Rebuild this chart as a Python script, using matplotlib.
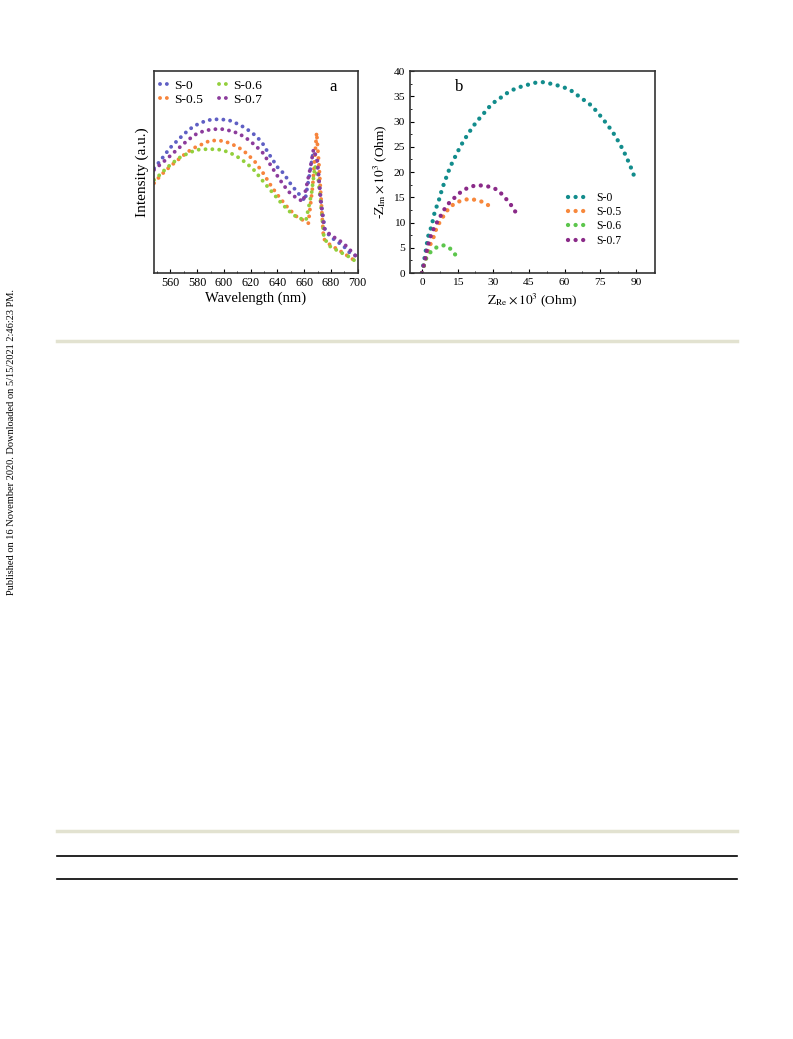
import matplotlib
matplotlib.use("Agg")
import matplotlib.pyplot as plt
from matplotlib.lines import Line2D

plt.rcParams['font.family'] = ['Liberation Serif', 'DejaVu Serif']
plt.rcParams['mathtext.fontset'] = 'stix'

# ---------------- Panel a data (PL spectra) ----------------
wl_s0 = [547.8, 552.0, 555.8, 559.5, 564.5, 569.5, 574.5, 580.7, 587.0, 592.0, 598.2, 604.4,
         609.4, 615.6, 621.9, 628.1, 633.3, 640.6, 644.6, 650.0, 654.6, 660.6, 664.3, 666.8,
         668.8, 670.5, 673.0, 675.6, 679.5, 684.3, 689.3, 694.5, 700.0]
int_s0 = [51.9, 55.2, 58.5, 61.8, 65.1, 68.4, 71.3, 73.8, 75.5, 76.1, 76.1, 75.5,
          74.1, 72.0, 69.0, 65.1, 59.3, 51.9, 49.4, 44.0, 40.2, 35.8, 50.0, 60.0,
          57.0, 49.4, 32.9, 21.4, 18.0, 15.7, 13.4, 9.7, 8.1]

wl_s05 = [547.8, 552.0, 557.0, 562.0, 567.0, 573.2, 579.5, 585.7, 589.5, 594.4, 599.4, 604.4,
          610.7, 616.9, 623.1, 629.4, 635.6, 641.9, 648.1, 654.3, 663.1, 666.3, 669.3, 671.3,
          673.1, 674.5, 679.3, 685.5, 691.8, 700.0]
int_s05 = [44.5, 47.8, 51.1, 54.0, 56.8, 60.1, 62.6, 64.3, 65.6, 65.6, 65.4, 64.3,
           62.3, 59.3, 55.2, 49.4, 42.8, 37.1, 32.1, 28.0, 24.7, 42.8, 69.5, 51.1,
           31.3, 17.0, 14.0, 11.5, 8.8, 5.2]

wl_s06 = [547.8, 552.0, 557.0, 562.0, 567.0, 573.2, 579.5, 585.7, 591.9, 598.2, 604.4, 610.7,
          616.9, 623.1, 629.4, 635.6, 641.9, 648.1, 654.3, 661.3, 665.5, 668.1, 670.6, 673.1,
          674.8, 679.3, 686.8, 694.3, 700.0]
int_s06 = [46.1, 48.6, 51.9, 54.7, 57.2, 59.3, 61.0, 61.3, 61.3, 61.0, 59.6, 57.3,
           54.4, 50.6, 45.3, 40.4, 35.4, 31.0, 27.7, 26.0, 39.5, 53.0, 46.1, 29.6,
           17.3, 13.2, 10.4, 7.8, 5.0]

wl_s07 = [547.8, 552.0, 557.0, 562.0, 567.0, 573.2, 579.5, 585.7, 591.9, 598.2, 604.4, 610.7,
          616.9, 623.1, 629.4, 635.6, 641.9, 648.1, 654.3, 659.3, 664.3, 667.0, 669.8, 672.3,
          674.8, 679.3, 689.3, 700.0]
int_s07 = [51.1, 53.5, 56.3, 59.3, 62.3, 65.9, 68.9, 70.5, 71.2, 71.3, 70.5, 69.2,
           66.7, 63.4, 59.3, 52.7, 46.1, 40.4, 37.1, 35.4, 51.1, 61.3, 56.0, 36.2,
           22.2, 19.0, 14.8, 7.5]

# ---------------- Panel b data (Nyquist) ----------------
zre_s0 = [0.0, 0.6, 1.2, 1.7, 2.2, 2.8, 3.8, 4.6, 5.3, 6.3, 7.4, 8.4, 9.5, 10.7, 11.8, 13.2,
          14.6, 16.0, 17.7, 19.5, 21.3, 23.4, 25.5, 27.5, 30.0, 32.5, 35.3, 38.3, 41.6, 44.6,
          47.8, 50.9, 54.1, 57.5, 60.7, 63.2, 66.0, 68.6, 71.2, 73.5, 75.6, 77.6, 79.5, 81.5,
          83.0, 84.7, 86.1, 87.5, 88.6, 90.0]
zim_s0 = [0.0, 1.6, 3.2, 4.6, 6.1, 7.6, 8.9, 10.4, 11.9, 13.3, 14.8, 16.5, 18.0, 19.5, 20.9,
          22.3, 23.6, 24.9, 26.3, 27.6, 28.9, 30.2, 31.3, 32.5, 33.7, 34.5, 35.5, 36.3, 36.9,
          37.3, 37.7, 37.8, 37.5, 37.1, 36.6, 36.0, 35.0, 34.1, 33.2, 32.0, 30.8, 29.6, 28.4,
          27.0, 25.7, 24.3, 22.8, 21.4, 19.9, 18.5]
zre_s05 = [0.0, 1.5, 2.8, 3.8, 5.1, 6.0, 7.4, 9.1, 11.1, 13.5, 16.7, 20.2, 23.3, 26.2, 28.9]
zim_s05 = [0.0, 2.5, 4.5, 6.0, 7.3, 8.7, 10.0, 11.3, 12.7, 13.7, 14.4, 14.7, 14.4, 14.0, 13.1]
zre_s06 = [0.0, 0.9, 1.8, 3.7, 6.5, 9.4, 12.0, 14.3]
zim_s06 = [0.0, 1.5, 2.9, 4.2, 5.2, 5.5, 4.8, 3.5]
zre_s07 = [0.0, 0.7, 1.4, 2.1, 2.8, 3.8, 4.9, 6.3, 8.1, 9.8, 11.8, 14.4, 16.7, 19.8, 23.0,
           26.2, 29.3, 32.1, 34.4, 36.7, 38.6, 40.2]
zim_s07 = [0.0, 1.4, 2.8, 4.5, 5.9, 7.4, 8.7, 10.0, 11.5, 12.9, 14.1, 15.2, 16.2, 17.0, 17.4,
           17.3, 17.0, 16.4, 15.2, 14.0, 12.7, 11.4]

labels = ['S-0', 'S-0.5', 'S-0.6', 'S-0.7']
colors_a = ['#5f5fc4', '#f7843c', '#93cf3c', '#8c3c9c']
colors_b = ['#128c8c', '#f7883c', '#5cc64c', '#8a2a88']

fig = plt.figure(figsize=(7.93, 10.39), dpi=100)

# ---------------- Panel a ----------------
axa = fig.add_axes([0.1946, 0.7372, 0.2565, 0.1944])
series_a = [(wl_s0, int_s0), (wl_s05, int_s05), (wl_s06, int_s06), (wl_s07, int_s07)]
for (x, y), c, lab in zip(series_a, colors_a, labels):
    axa.plot(x, y, color=c, lw=2.8, linestyle=(0, (0.01, 1.75)),
             dash_capstyle='round', label=lab)
axa.set_xlim(548, 700)
axa.set_ylim(0, 100)
axa.set_xticks([560, 580, 600, 620, 640, 660, 680, 700])
axa.set_xticks(range(550, 701, 10), minor=True)
axa.set_yticks([])
axa.tick_params(axis='x', which='both', direction='in', labelsize=8.7, pad=3)
axa.tick_params(axis='x', which='major', length=3)
axa.tick_params(axis='x', which='minor', length=1.5)
axa.set_xlabel('Wavelength (nm)', fontsize=10.5, labelpad=2)
axa.set_ylabel('Intensity (a.u.)', fontsize=11, labelpad=4)
for s in axa.spines.values():
    s.set_linewidth(1.2)
    s.set_color('#333333')
axa.text(0.88, 0.92, 'a', transform=axa.transAxes, fontsize=12, ha='center', va='center')
axa.legend(ncol=2, loc='upper left', bbox_to_anchor=(-0.01, 1.0), frameon=False,
           fontsize=9.7, handlelength=0.65, handletextpad=0.4, columnspacing=1.15,
           labelspacing=0.12, borderaxespad=0.2)

# ---------------- Panel b ----------------
axb = fig.add_axes([0.517, 0.7372, 0.309, 0.1944])
series_b = [(zre_s0, zim_s0), (zre_s05, zim_s05), (zre_s06, zim_s06), (zre_s07, zim_s07)]
for (x, y), c, lab in zip(series_b, colors_b, labels):
    axb.plot(x, y, color=c, lw=3.1, linestyle=(0, (0.01, 1.75)),
             dash_capstyle='round', label=lab)
axb.set_xlim(-5, 98)
axb.set_ylim(0, 40)
axb.set_xticks([0, 15, 30, 45, 60, 75, 90])
axb.set_xticks([7.5 * i for i in range(0, 14)], minor=True)
axb.set_yticks(range(0, 41, 5))
axb.set_yticks([2.5 * i for i in range(0, 17)], minor=True)
axb.tick_params(which='both', direction='in', labelsize=8.2)
axb.tick_params(which='major', length=3)
axb.tick_params(which='minor', length=1.5)
axb.set_xlabel(r'$\mathrm{Z_{Re}}\times10^{3}$ (Ohm)', fontsize=9.5, labelpad=3)
axb.set_ylabel(r'-$\mathrm{Z_{Im}}\times10^{3}$ (Ohm)', fontsize=9.5, labelpad=3)
for s in axb.spines.values():
    s.set_linewidth(1.2)
    s.set_color('#333333')
axb.text(0.2, 0.92, 'b', transform=axb.transAxes, fontsize=12, ha='center', va='center')
axb.legend(loc='upper left', bbox_to_anchor=(0.6, 0.455), frameon=False, fontsize=8.5,
           handlelength=1.4, handletextpad=1.0, labelspacing=0.2)

# ---------------- page decorations ----------------
fig.add_artist(Line2D([0.0719, 0.9294], [0.6718, 0.6718], color='#e2e2d0', lw=2.5))
fig.add_artist(Line2D([0.0719, 0.9294], [0.2002, 0.2002], color='#e2e2d0', lw=2.5))
fig.add_artist(Line2D([0.0719, 0.9294], [0.1761, 0.1761], color='black', lw=1.2))
fig.add_artist(Line2D([0.0719, 0.9294], [0.1540, 0.1540], color='black', lw=1.2))
fig.text(0.0151, 0.5746,
         'Published on 16 November 2020. Downloaded on 5/15/2021 2:46:23 PM.',
         rotation=90, fontsize=7.5, ha='center', va='center')

fig.savefig('out.png', dpi=100)
